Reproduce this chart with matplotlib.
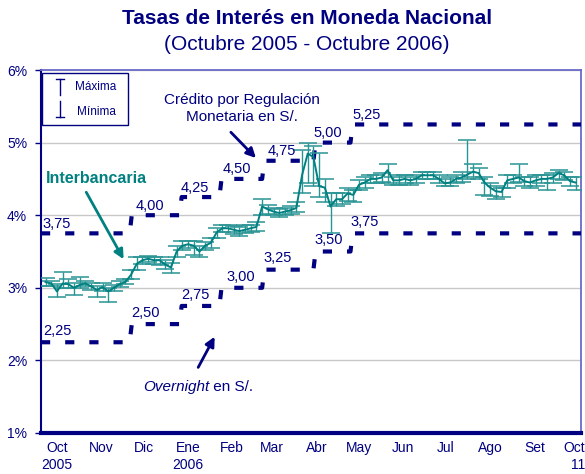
import numpy as np
import matplotlib
matplotlib.use("Agg")
import matplotlib.pyplot as plt
from matplotlib.patches import Rectangle

plt.rcParams['font.family'] = ['Liberation Sans', 'DejaVu Sans']

NAVY = '#000080'
TEAL = '#008080'

# --- data -------------------------------------------------------------
# x axis: days counted from 1 Oct 2005
month_labels = ['Oct\n2005', 'Nov', 'Dic', 'Ene\n2006', 'Feb', 'Mar', 'Abr',
                'May', 'Jun', 'Jul', 'Ago', 'Set', 'Oct\n11']
month_days = [10, 41, 71, 102, 133, 161, 192, 222, 253, 283, 314, 345, 375]

# policy rate changes (day of change) and levels
change_days = [61, 96, 124, 154, 190, 216]
overnight = [2.25, 2.50, 2.75, 3.00, 3.25, 3.50, 3.75]
credito = [3.75, 4.00, 4.25, 4.50, 4.75, 5.00, 5.25]
overnight_lbl = ['2,25', '2,50', '2,75', '3,00', '3,25', '3,50', '3,75']
credito_lbl = ['3,75', '4,00', '4,25', '4,50', '4,75', '5,00', '5,25']

# interbank rate (sampled), with daily max / min
ib_days = list(range(2, 376, 4))
ib_mean = [3.08, 3.06, 2.95, 3.06, 3.05, 3.00, 3.04, 3.06, 3.02, 2.97,
           3.01, 2.95, 3.00, 3.05, 3.08, 3.18, 3.33, 3.38, 3.40, 3.38,
           3.38, 3.32, 3.28, 3.50, 3.58, 3.60, 3.58, 3.50, 3.58, 3.62,
           3.76, 3.82, 3.82, 3.80, 3.78, 3.80, 3.82, 3.84, 4.12, 4.08,
           4.05, 4.03, 4.05, 4.07, 4.10, 4.55, 4.85, 4.80, 4.40, 4.38,
           4.12, 4.22, 4.22, 4.30, 4.28, 4.42, 4.45, 4.50, 4.50, 4.52,
           4.62, 4.48, 4.48, 4.50, 4.48, 4.50, 4.55, 4.55, 4.55, 4.50,
           4.44, 4.45, 4.50, 4.52, 4.56, 4.60, 4.58, 4.45, 4.38, 4.33,
           4.32, 4.48, 4.50, 4.52, 4.47, 4.45, 4.48, 4.50, 4.50, 4.52,
           4.58, 4.55, 4.47, 4.45]
ib_max = [3.14, 3.10, 3.05, 3.22, 3.12, 3.06, 3.15, 3.10, 3.06, 3.02,
          3.06, 3.00, 3.04, 3.09, 3.12, 3.25, 3.42, 3.43, 3.44, 3.42,
          3.42, 3.38, 3.34, 3.58, 3.65, 3.65, 3.64, 3.58, 3.63, 3.68,
          3.82, 3.87, 3.87, 3.85, 3.84, 3.86, 3.87, 3.90, 4.22, 4.14,
          4.10, 4.08, 4.10, 4.12, 4.18, 4.90, 5.00, 4.95, 4.85, 4.50,
          4.30, 4.30, 4.30, 4.38, 4.35, 4.48, 4.52, 4.56, 4.56, 4.58,
          4.70, 4.53, 4.55, 4.56, 4.53, 4.56, 4.60, 4.60, 4.59, 4.55,
          4.50, 4.52, 4.56, 4.60, 5.04, 4.70, 4.65, 4.52, 4.45, 4.40,
          4.38, 4.55, 4.56, 4.70, 4.53, 4.52, 4.55, 4.56, 4.56, 4.58,
          4.62, 4.60, 4.53, 4.52]
ib_min = [3.03, 3.02, 2.88, 3.00, 3.00, 2.90, 3.00, 3.02, 2.97, 2.87,
          2.96, 2.80, 2.95, 3.01, 3.05, 3.12, 3.25, 3.33, 3.36, 3.33,
          3.32, 3.26, 3.20, 3.42, 3.52, 3.55, 3.45, 3.42, 3.52, 3.55,
          3.68, 3.77, 3.77, 3.74, 3.72, 3.75, 3.77, 3.78, 4.00, 4.02,
          4.00, 3.97, 4.00, 4.02, 4.05, 4.30, 4.45, 4.40, 4.25, 4.18,
          3.75, 4.12, 4.15, 4.20, 4.18, 4.35, 4.38, 4.44, 4.44, 4.46,
          4.45, 4.42, 4.42, 4.44, 4.42, 4.44, 4.50, 4.50, 4.50, 4.44,
          4.40, 4.40, 4.45, 4.46, 4.50, 4.53, 4.50, 4.28, 4.27, 4.22,
          4.25, 4.38, 4.44, 4.46, 4.40, 4.38, 4.40, 4.44, 4.35, 4.45,
          4.50, 4.48, 4.40, 4.35]

yticks = [1, 2, 3, 4, 5, 6]
ytick_labels = ['1%', '2%', '3%', '4%', '5%', '6%']

XMIN, XMAX = -1.2, 377.8

# --- figure ------------------------------------------------------------
fig = plt.figure(figsize=(5.85, 4.74), dpi=100)
ax = fig.add_axes([0.0701, 0.0865, 0.9231, 0.7658])


def step_path(levels):
    xs, ys = [XMIN], [levels[0]]
    for i, t in enumerate(change_days):
        xs += [t, t + 1.5]
        ys += [levels[i], levels[i + 1]]
    xs.append(XMAX)
    ys.append(levels[-1])
    return xs, ys


for lev in (overnight, credito):
    xs, ys = step_path(lev)
    ax.plot(xs, ys, color=NAVY, lw=3.0, ls=(0, (2.2, 3.6)),
            solid_capstyle='butt', dash_capstyle='butt', zorder=3)

# interbank with max/min bars
ib_mean_a = np.array(ib_mean)
yerr = [ib_mean_a - np.array(ib_min), np.array(ib_max) - ib_mean_a]
ax.errorbar(ib_days, ib_mean, yerr=yerr, color=TEAL, lw=1.4,
            ecolor='#2a9494', elinewidth=1.0, capsize=6.5, capthick=1.1,
            zorder=4)

# rate labels
lbl_days = [10, 72, 107, 139, 165, 201, 226]
lbl_days_cr = [10, 75, 107, 136, 168, 200, 227]
for i in range(len(overnight)):
    ax.text(lbl_days[i], overnight[i] + 0.155, overnight_lbl[i],
            color=NAVY, fontsize=10.5, ha='center', va='center', zorder=5)
    ax.text(lbl_days_cr[i], credito[i] + 0.13, credito_lbl[i],
            color=NAVY, fontsize=10.5, ha='center', va='center', zorder=5)

# annotations
ax.annotate('', xy=(151, 4.76), xytext=(130.7, 5.17),
            arrowprops=dict(arrowstyle='-|>', color=NAVY, lw=2.0,
                            mutation_scale=14))
ax.text(140, 5.47, 'Crédito por Regulación\nMonetaria en S/.', color=NAVY,
        fontsize=11, ha='center', va='center', linespacing=1.25)

ax.annotate('', xy=(57.7, 3.36), xytext=(29.6, 4.35),
            arrowprops=dict(arrowstyle='-|>', color=TEAL, lw=2.0,
                            mutation_scale=14))
ax.text(37.4, 4.50, 'Interbancaria', color=TEAL, fontsize=11.5,
        fontweight='bold', ha='center', va='center')

ax.annotate('', xy=(121.6, 2.36), xytext=(108.2, 1.87),
            arrowprops=dict(arrowstyle='-|>', color=NAVY, lw=2.0,
                            mutation_scale=14))
ax.text(117, 1.63, 'Overnight', color=NAVY, fontsize=11, style='italic',
        ha='right', va='center')
ax.text(117, 1.63, ' en S/.', color=NAVY, fontsize=11, ha='left',
        va='center')

# legend box (drawn manually)
ax.add_patch(Rectangle((0.002, 0.848), 0.159, 0.144, transform=ax.transAxes,
                       facecolor='white', edgecolor=NAVY, lw=1.0, zorder=6))
ax.plot([0.035, 0.035], [0.931, 0.975], transform=ax.transAxes, color=NAVY,
        lw=1.0, zorder=7)
ax.plot([0.027, 0.043], [0.975, 0.975], transform=ax.transAxes, color=NAVY,
        lw=1.0, zorder=7)
ax.plot([0.035, 0.035], [0.871, 0.915], transform=ax.transAxes, color=NAVY,
        lw=1.0, zorder=7)
ax.plot([0.027, 0.043], [0.871, 0.871], transform=ax.transAxes, color=NAVY,
        lw=1.0, zorder=7)
ax.text(0.063, 0.953, 'Máxima', transform=ax.transAxes, color=NAVY,
        fontsize=8.5, va='center', zorder=7)
ax.text(0.066, 0.884, 'Mínima', transform=ax.transAxes, color=NAVY,
        fontsize=8.5, va='center', zorder=7)

# axes styling
ax.set_xlim(XMIN, XMAX)
ax.set_ylim(1, 6)
ax.set_yticks(yticks)
ax.set_yticklabels(ytick_labels)
ax.set_xticks(month_days)
ax.set_xticklabels(month_labels)
ax.yaxis.grid(True, color='#c8c8c8', lw=1.0)
ax.set_axisbelow(True)
ax.tick_params(axis='y', colors=NAVY, labelsize=10, length=4, width=1,
               pad=6)
ax.tick_params(axis='x', colors=NAVY, labelsize=10, length=0, pad=6)
for lbl in ax.get_xticklabels() + ax.get_yticklabels():
    lbl.set_color(NAVY)
    lbl.set_linespacing(1.25)
last = ax.get_xticklabels()[-1]
last.set_horizontalalignment('right')
last.set_multialignment('right')
from matplotlib.transforms import ScaledTranslation
last.set_transform(last.get_transform() +
                   ScaledTranslation(8 / 100, 0, fig.dpi_scale_trans))
ax.spines['left'].set_color(NAVY)
ax.spines['left'].set_linewidth(1.5)
ax.spines['bottom'].set_color(NAVY)
ax.spines['bottom'].set_linewidth(3.0)
ax.spines['top'].set_color('#6a6ac8')
ax.spines['top'].set_linewidth(1.3)
ax.spines['right'].set_color('#6a6ac8')
ax.spines['right'].set_linewidth(1.3)

fig.text(0.525, 0.962, 'Tasas de Interés en Moneda Nacional', color=NAVY,
         fontsize=15, fontweight='bold', ha='center', va='center')
fig.text(0.525, 0.906, '(Octubre 2005 - Octubre 2006)', color=NAVY,
         fontsize=15, ha='center', va='center')

fig.savefig('out.png', dpi=100)
